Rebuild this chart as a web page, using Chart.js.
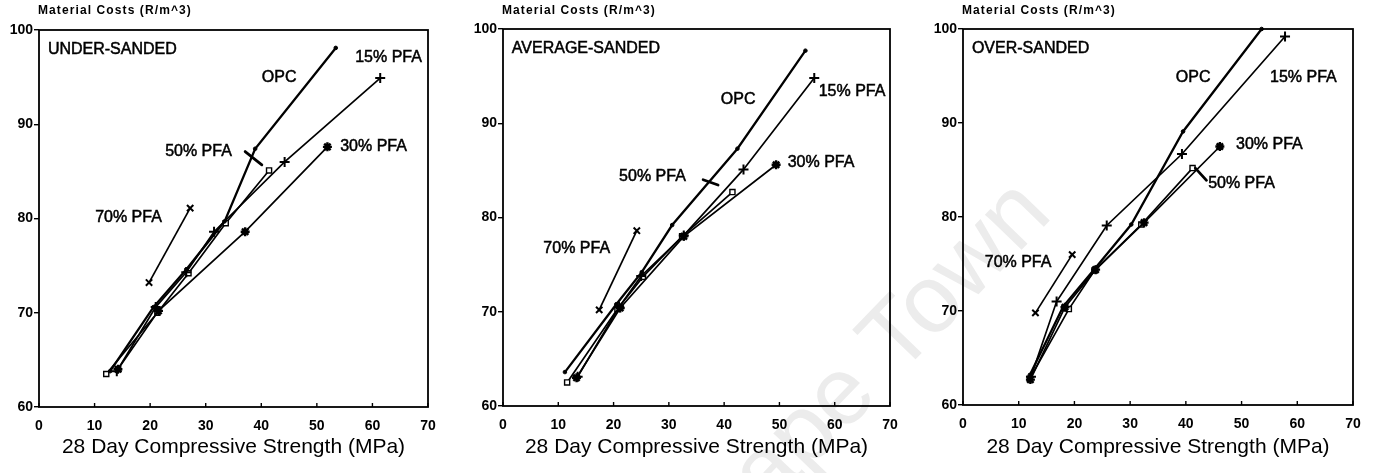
<!DOCTYPE html>
<html>
<head>
<meta charset="utf-8">
<script src="https://cdn.jsdelivr.net/npm/chart.js@4/dist/chart.umd.min.js"></script>
<style>
  html, body { margin: 0; padding: 0; background: #fff; }
  body { width: 1379px; height: 473px; position: relative; overflow: hidden; }
  #wm { position: absolute; left: 0; top: 0; }
  .panel { position: absolute; top: 0; height: 473px; }
  .panel canvas { position: absolute; left: 0; top: 0; }
</style>
</head>
<body>
<canvas id="wm" width="1379" height="473"></canvas>
<div class="panel" style="left:0;width:460px"><canvas id="c0" width="460" height="473"></canvas></div>
<div class="panel" style="left:460px;width:460px"><canvas id="c1" width="460" height="473"></canvas></div>
<div class="panel" style="left:920px;width:459px"><canvas id="c2" width="459" height="473"></canvas></div>
<script>
// ---- data: [28-day strength (MPa), material cost (R/m^3)] ----
const PANEL_TITLES = ['UNDER-SANDED', 'AVERAGE-SANDED', 'OVER-SANDED'];
const SERIES = ['OPC', '15% PFA', '30% PFA', '50% PFA', '70% PFA'];
const X_TICKS = [0, 10, 20, 30, 40, 50, 60, 70];
const Y_TICKS = [60, 70, 80, 90, 100];

const underOPC = [[12.8, 63.8], [20.6, 70.6], [26.5, 74.6], [33.4, 79.7], [38.9, 87.4], [53.4, 98.1]];
const under15  = [[14.0, 63.8], [21.0, 70.6], [26.5, 74.3], [31.5, 78.6], [44.2, 86.0], [61.4, 94.9]];
const under30  = [[14.2, 64.0], [21.5, 70.2], [37.1, 78.6], [51.9, 87.6]];
const under50  = [[12.1, 63.5], [21.3, 70.0], [26.9, 74.2], [33.6, 79.5], [41.4, 85.1]];
const under70  = [[19.8, 73.2], [27.2, 81.1]];

const avgOPC = [[11.2, 63.6], [20.5, 70.8], [25.1, 74.2], [30.6, 79.2], [42.4, 87.3], [54.7, 97.7]];
const avg15  = [[13.5, 63.1], [21.0, 70.5], [25.0, 73.8], [32.7, 78.1], [43.5, 85.1], [56.3, 94.8]];
const avg30  = [[13.3, 63.0], [21.2, 70.4], [32.7, 78.0], [49.4, 85.6]];
const avg50  = [[11.6, 62.5], [20.7, 70.3], [25.3, 73.7], [32.4, 78.0], [41.5, 82.7]];
const avg70  = [[17.4, 70.2], [24.2, 78.6]];

const overOPC = [[12.0, 63.2], [18.0, 70.5], [23.8, 74.6], [30.2, 79.2], [39.5, 89.1], [53.6, 100.0]];
const over15  = [[12.2, 63.0], [16.8, 71.0], [25.8, 79.1], [39.3, 86.7], [57.8, 99.2]];
const over30  = [[12.1, 62.7], [18.3, 70.4], [23.8, 74.4], [32.5, 79.4], [46.1, 87.5]];
const over50  = [[12.0, 62.8], [19.0, 70.2], [23.6, 74.3], [32.0, 79.2], [41.2, 85.2]];
const over70  = [[13.0, 69.8], [19.6, 76.0]];

const PANEL_DATA = [
  [underOPC, under15, under30, under50, under70],
  [avgOPC, avg15, avg30, avg50, avg70],
  [overOPC, over15, over30, over50, over70]
];

// ---- in-plot annotation anchors (data units) ----
const TITLE_ANCHOR = [1.6, 97.9];
const LABEL_ANCHORS = [
  [[40.1, 94.9], [56.9, 97.1], [54.2, 87.6], [22.7, 87.1], [10.1, 80.1]],
  [[39.4, 92.5], [57.1, 93.4], [51.5, 85.8], [21.0, 84.3], [7.3, 76.7]],
  [[38.2, 94.8], [55.1, 94.8], [49.0, 87.7], [44.0, 83.6], [3.9, 75.1]]
];
// short pointer strokes next to the 50% PFA label
const POINTERS = [
  [[37.1, 87.1], [40.1, 85.7]],
  [[36.2, 84.0], [38.9, 83.45]],
  [[41.7, 85.2], [43.7, 83.9]]
];

// ---- plot frame geometry per canvas ----
const FRAMES = [
  { w: 460, left: 39, right: 428, top: 30, bottom: 407 },
  { w: 460, left: 43, right: 430, top: 29, bottom: 406 },
  { w: 459, left: 43, right: 433, top: 29, bottom: 405 }
];

const SERIES_STYLE = [
  { pointStyle: 'circle',   radius: 1.8, borderWidth: 2.3, pointBorderWidth: 1,   pointBackgroundColor: '#000' },
  { pointStyle: 'cross',    radius: 5,   borderWidth: 1.7, pointBorderWidth: 2.0, pointBackgroundColor: '#000' },
  { pointStyle: 'star',     radius: 4.5, borderWidth: 1.7, pointBorderWidth: 2.4, pointBackgroundColor: '#000' },
  { pointStyle: 'rect',     radius: 3.6, borderWidth: 1.7, pointBorderWidth: 1.4, pointBackgroundColor: '#fff' },
  { pointStyle: 'crossRot', radius: 4.5, borderWidth: 1.7, pointBorderWidth: 2.0, pointBackgroundColor: '#000' }
];

const FONT = "'Liberation Sans', Arial, Helvetica, sans-serif";

// faint diagonal watermark lettering behind the plots
(function drawWatermark() {
  const c = document.getElementById('wm').getContext('2d');
  c.save();
  c.translate(1054, 216);
  c.rotate(-46 * Math.PI / 180);
  c.font = '96px ' + FONT;
  c.fillStyle = '#ececec';
  c.textAlign = 'right';
  c.textBaseline = 'alphabetic';
  c.fillText('Cape Town', 0, 0);
  c.restore();
})();

// draws text with a hairline outline so it reads a little heavier
function heavyText(ctx, s, px, py, w) {
  ctx.lineWidth = w;
  ctx.strokeText(s, px, py);
  ctx.fillText(s, px, py);
}

// frame box, inner x ticks, panel texts
const annotate = {
  id: 'annotate',
  afterDraw(chart, args, opts) {
    const { ctx, chartArea: a, scales: { x, y } } = chart;
    const p = opts.panel;
    ctx.save();
    ctx.strokeStyle = '#000';
    ctx.lineWidth = 1.8;
    ctx.strokeRect(a.left, a.top, a.right - a.left, a.bottom - a.top);

    // x tick marks point into the plot
    ctx.lineWidth = 1.4;
    X_TICKS.forEach(v => {
      const px = x.getPixelForValue(v);
      ctx.beginPath();
      ctx.moveTo(px, a.bottom);
      ctx.lineTo(px, a.bottom - 4);
      ctx.stroke();
    });

    // y-axis caption above the frame
    ctx.fillStyle = '#000';
    ctx.font = 'bold 12px ' + FONT;
    if ('letterSpacing' in ctx) ctx.letterSpacing = '1.1px';
    ctx.textAlign = 'left';
    ctx.textBaseline = 'middle';
    ctx.fillText('Material Costs (R/m^3)', a.left - 1, 11);
    if ('letterSpacing' in ctx) ctx.letterSpacing = '0px';

    // panel name
    ctx.font = '16px ' + FONT;
    heavyText(ctx, PANEL_TITLES[p], x.getPixelForValue(TITLE_ANCHOR[0]), y.getPixelForValue(TITLE_ANCHOR[1]), 0.5);

    // series labels
    LABEL_ANCHORS[p].forEach((an, i) => {
      heavyText(ctx, SERIES[i], x.getPixelForValue(an[0]), y.getPixelForValue(an[1]), 0.5);
    });

    // pointer stroke by the 50% PFA label
    const pt = POINTERS[p];
    ctx.lineWidth = 2.8;
    ctx.lineCap = 'round';
    ctx.beginPath();
    ctx.moveTo(x.getPixelForValue(pt[0][0]), y.getPixelForValue(pt[0][1]));
    ctx.lineTo(x.getPixelForValue(pt[1][0]), y.getPixelForValue(pt[1][1]));
    ctx.stroke();
    ctx.restore();
  }
};

function makePanel(p) {
  const f = FRAMES[p];
  const datasets = PANEL_DATA[p].map((pts, i) => {
    const s = SERIES_STYLE[i];
    return {
      label: SERIES[i],
      data: pts.map(q => ({ x: q[0], y: q[1] })),
      showLine: true,
      borderColor: '#000',
      borderWidth: s.borderWidth,
      pointStyle: s.pointStyle,
      pointRadius: s.radius,
      pointBorderWidth: s.pointBorderWidth,
      pointBorderColor: '#000',
      pointBackgroundColor: s.pointBackgroundColor,
      tension: 0,
      clip: false
    };
  });

  new Chart(document.getElementById('c' + p), {
    type: 'scatter',
    data: { datasets },
    options: {
      responsive: false,
      animation: false,
      events: [],
      layout: { padding: { left: 0, right: f.w - f.right, top: f.top, bottom: 0 } },
      plugins: {
        legend: { display: false },
        tooltip: { enabled: false },
        annotate: { panel: p }
      },
      scales: {
        x: {
          type: 'linear',
          min: 0, max: 70,
          afterBuildTicks(s) { s.ticks = X_TICKS.map(v => ({ value: v })); },
          afterFit(s) { s.height = 473 - f.bottom; },
          border: { display: false },
          grid: { display: false, drawTicks: false },
          ticks: { color: '#000', padding: 11, maxRotation: 0, font: { family: FONT, size: 14, weight: 'bold' } },
          title: {
            display: true,
            text: '28 Day Compressive Strength (MPa)',
            color: '#000',
            font: { family: FONT, size: 21 },
            padding: { top: 0, bottom: 13 }
          }
        },
        y: {
          type: 'linear',
          min: 60, max: 100,
          afterBuildTicks(s) { s.ticks = Y_TICKS.map(v => ({ value: v })); },
          afterFit(s) { s.width = f.left; },
          border: { display: false },
          grid: { drawOnChartArea: false, drawTicks: true, tickLength: 5, color: '#000', lineWidth: 1.4 },
          ticks: { color: '#000', padding: 1, font: { family: FONT, size: 14, weight: 'bold' } }
        }
      }
    },
    plugins: [annotate]
  });
}

[0, 1, 2].forEach(makePanel);
</script>
</body>
</html>
